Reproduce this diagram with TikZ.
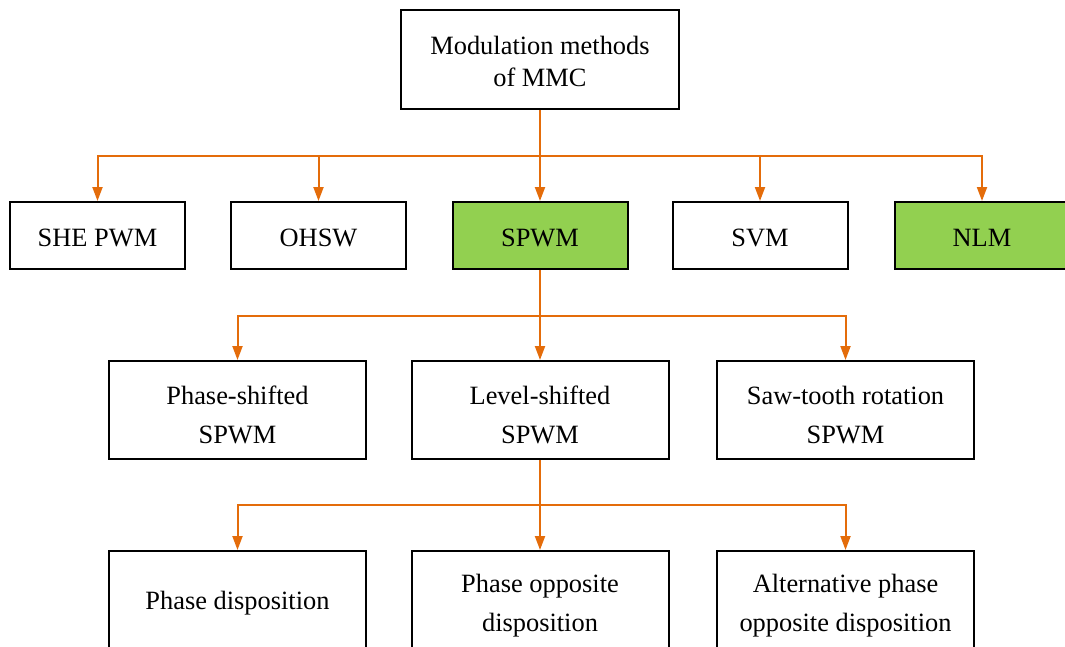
\documentclass[tikz,border=0pt]{standalone}
\usepackage{fontspec}
\setmainfont{Liberation Serif}
\usetikzlibrary{arrows.meta}
\definecolor{conn}{HTML}{E46C0A}
\definecolor{leaf}{HTML}{92D050}
\newcommand\tp[1]{\rule{0pt}{#1pt}}
\newcommand\bt{\rule[-3pt]{0pt}{3pt}}
\begin{document}
\begin{tikzpicture}[x=1pt,y=-1pt,
  box/.style={draw=black,line width=2pt,inner sep=0pt,align=center,
    font=\fontsize{26.4}{39}\selectfont},
  rowtwo/.style={box,minimum width=175pt,minimum height=67pt},
  rowthree/.style={box,minimum width=257pt,minimum height=98pt},
  hl/.style={fill=leaf},
  wire/.style={draw=conn,line width=2pt},
  arr/.style={wire,-{Triangle[length=14pt,width=10pt]}}]
\useasboundingbox (0,0) rectangle (1065,646);
\node[box,minimum width=278pt,minimum height=99pt,font=\fontsize{26.4}{32}\selectfont] (top) at (540,59.5) {\tp{24}Modulation methods\\of MMC\bt};
\node[rowtwo] (she) at (97.5,235.5) {\tp{25}SHE PWM\bt};
\node[rowtwo] (ohsw) at (318.5,235.5) {\tp{25}OHSW\bt};
\node[rowtwo,hl] (spwm) at (540,235.5) {\tp{25}SPWM\bt};
\node[rowtwo] (svm) at (760,235.5) {\tp{25}SVM\bt};
\node[rowtwo,hl] (nlm) at (982,235.5) {\tp{25}NLM\bt};
\node[rowthree] (ps) at (237.5,410) {\tp{30}Phase-shifted\\SPWM\bt};
\node[rowthree] (ls) at (540,410) {\tp{30}Level-shifted\\SPWM\bt};
\node[rowthree] (st) at (845.5,410) {\tp{30}Saw-tooth rotation\\SPWM\bt};
\node[rowthree] (pd) at (237.5,600) {\tp{25}Phase disposition\bt};
\node[rowthree] (pod) at (540,600) {\tp{30}Phase opposite\\disposition\bt};
\node[rowthree] (apod) at (845.5,600) {\tp{30}Alternative phase\\opposite disposition\bt};
\coordinate (bus1) at (540,156);
\coordinate (bus2) at (540,316);
\coordinate (bus3) at (540,505);
\draw[wire] (top.south) -- (bus1);
\foreach \n in {she,ohsw,spwm,svm,nlm} \draw[arr] (bus1) -| (\n.north);
\draw[wire] (spwm.south) -- (bus2);
\foreach \n in {ps,ls,st} \draw[arr] (bus2) -| (\n.north);
\draw[wire] (ls.south) -- (bus3);
\foreach \n in {pd,pod,apod} \draw[arr] (bus3) -| (\n.north);
\end{tikzpicture}
\end{document}
